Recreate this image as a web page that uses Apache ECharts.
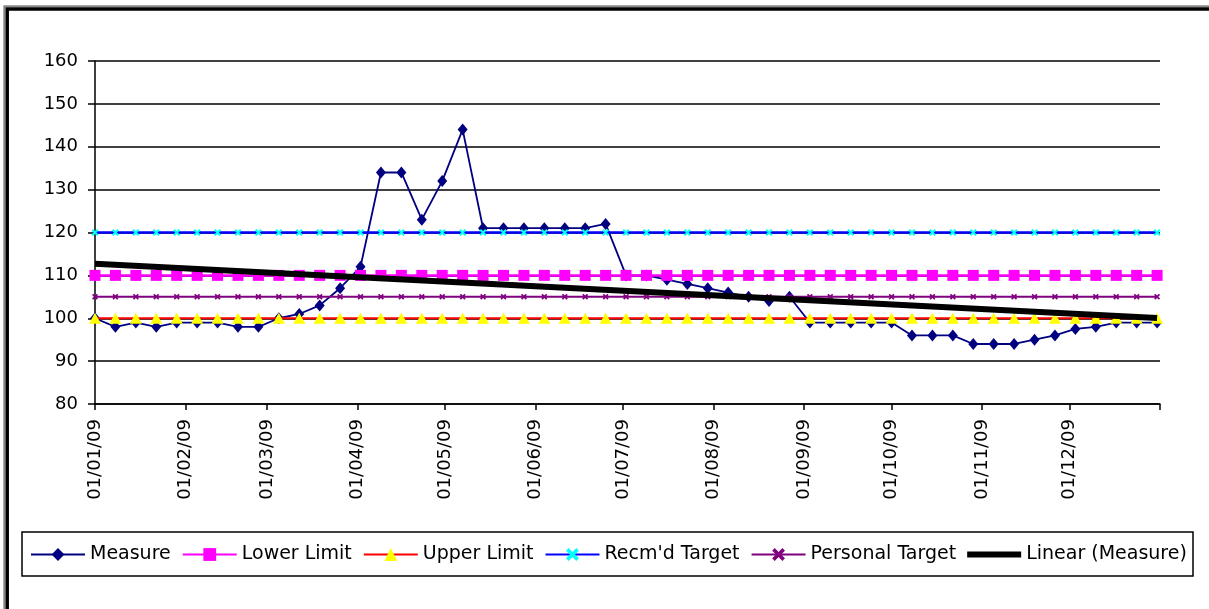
<!DOCTYPE html>
<html>
<head>
<meta charset="utf-8">
<script src="https://cdn.jsdelivr.net/npm/echarts@6/dist/echarts.min.js"></script>
<style>
html,body{margin:0;padding:0;background:#fff;}
#chart{width:1209px;height:609px;}
</style>
</head>
<body>
<div id="chart"></div>
<script>
// ---- data ----
const dates = [
 '2009-01-01','2009-01-08','2009-01-15','2009-01-22','2009-01-29',
 '2009-02-05','2009-02-12','2009-02-19','2009-02-26',
 '2009-03-05','2009-03-12','2009-03-19','2009-03-26',
 '2009-04-02','2009-04-09','2009-04-16','2009-04-23','2009-04-30',
 '2009-05-07','2009-05-14','2009-05-21','2009-05-28',
 '2009-06-04','2009-06-11','2009-06-18','2009-06-25',
 '2009-07-02','2009-07-09','2009-07-16','2009-07-23','2009-07-30',
 '2009-08-06','2009-08-13','2009-08-20','2009-08-27',
 '2009-09-03','2009-09-10','2009-09-17','2009-09-24',
 '2009-10-01','2009-10-08','2009-10-15','2009-10-22','2009-10-29',
 '2009-11-05','2009-11-12','2009-11-19','2009-11-26',
 '2009-12-03','2009-12-10','2009-12-17','2009-12-24','2009-12-31'
];
const measure = [
 100, 98, 99, 98, 99,
 99, 99, 98, 98,
 100, 101, 103, 107,
 112, 134, 134, 123, 132,
 144, 121, 121, 121,
 121, 121, 121, 122,
 110, 110, 109, 108, 107,
 106, 105, 104, 105,
 99, 99, 99, 99,
 99, 96, 96, 96, 94,
 94, 94, 95, 96,
 97.5, 98, 99, 99, 99
];
const lowerLimit = 110;
const upperLimit = 100;
const recmdTarget = 120;
const personalTarget = 105;
const monthTicks = [
 '2009-01-01','2009-02-01','2009-03-01','2009-04-01','2009-05-01','2009-06-01',
 '2009-07-01','2009-08-01','2009-09-01','2009-10-01','2009-11-01','2009-12-01','2010-01-01'
];
const seriesNames = ['Measure','Lower Limit','Upper Limit',"Recm'd Target",'Personal Target','Linear (Measure)'];

// ---- helpers ----
function toTs(s){const p=s.split('-').map(Number);return Date.UTC(p[0],p[1]-1,p[2]);}
function pad(n){return (n<10?'0':'')+n;}
function fmt(v){const d=new Date(v);return pad(d.getUTCDate())+'/'+pad(d.getUTCMonth()+1)+'/'+String(d.getUTCFullYear()).slice(2);}

const xs = dates.map(toTs);
const measureData = xs.map((x,i)=>[x,measure[i]]);
const constLine = v => xs.map(x=>[x,v]);

// least-squares trend of Measure (Excel "Linear" trendline)
const n = xs.length;
const mx = xs.reduce((a,b)=>a+b,0)/n;
const my = measure.reduce((a,b)=>a+b,0)/n;
let sxy=0,sxx=0;
for(let i=0;i<n;i++){sxy+=(xs[i]-mx)*(measure[i]-my);sxx+=(xs[i]-mx)*(xs[i]-mx);}
const slope=sxy/sxx, icpt=my-slope*mx;
const trendData=[[xs[0],icpt+slope*xs[0]],[xs[n-1],icpt+slope*xs[n-1]]];

const tickTs = monthTicks.map(toTs);
const labelTs = tickTs.slice(0,-1);

const FONT = 'DejaVu Sans';
const xMark = 'path://M0,2 L2,0 L5,3 L8,0 L10,2 L7,5 L10,8 L8,10 L5,7 L2,10 L0,8 L3,5 Z';

const legendData = seriesNames.map((nm,i)=> i===5 ? {name:nm, icon:'path://M0,0 H54 V6 H0 Z'} : {name:nm});

const chart = echarts.init(document.getElementById('chart'));
chart.setOption({
  animation:false,
  backgroundColor:'#fff',
  textStyle:{fontFamily:FONT},
  graphic:[
    {type:'rect',shape:{x:4.3,y:6.2,width:1400,height:800},style:{fill:'none',stroke:'#888',lineWidth:2},z:100,silent:true},
    {type:'rect',shape:{x:7.2,y:9,width:1400,height:800},style:{fill:'none',stroke:'#000',lineWidth:3.5},z:100,silent:true},
    {type:'rect',shape:{x:22,y:532,width:1171,height:44},style:{fill:'none',stroke:'#000',lineWidth:1.5},z:100,silent:true}
  ],
  grid:{left:95,right:49,top:61,bottom:205,containLabel:false},
  legend:{
    left:30, top:545, padding:0, itemGap:11, itemWidth:54, itemHeight:16,
    textStyle:{fontFamily:FONT,fontSize:19,color:'#000'},
    data:legendData
  },
  xAxis:{
    type:'value',
    min:tickTs[0], max:tickTs[tickTs.length-1],
    axisLine:{lineStyle:{color:'#000',width:1.5}},
    axisTick:{show:true,length:6,lineStyle:{color:'#000',width:1.5},customValues:tickTs},
    axisLabel:{rotate:90,margin:15,fontFamily:FONT,fontSize:18,color:'#000',customValues:labelTs,formatter:fmt},
    splitLine:{show:false}
  },
  yAxis:{
    type:'value', min:80, max:160, interval:10,
    axisLine:{show:true,lineStyle:{color:'#000',width:1.5}},
    axisTick:{show:true,length:7,lineStyle:{color:'#000',width:1.5}},
    axisLabel:{margin:17,fontFamily:FONT,fontSize:18,color:'#000'},
    splitLine:{show:true,lineStyle:{color:'#000',width:1.5}}
  },
  series:[
    {name:seriesNames[0],type:'line',data:measureData,symbol:'diamond',symbolSize:[10,12],
     lineStyle:{color:'#000080',width:1.8},itemStyle:{color:'#000080'},z:2},
    {name:seriesNames[1],type:'line',data:constLine(lowerLimit),symbol:'rect',symbolSize:11,
     lineStyle:{color:'#FF00FF',width:2.5},itemStyle:{color:'#FF00FF'},z:3},
    {name:seriesNames[2],type:'line',data:constLine(upperLimit),symbol:'triangle',symbolSize:[12,11],
     lineStyle:{color:'#FF0000',width:2},itemStyle:{color:'#FFFF00'},z:4},
    {name:seriesNames[3],type:'line',data:constLine(recmdTarget),symbol:xMark,symbolSize:7,
     lineStyle:{color:'#0000FF',width:2.5},itemStyle:{color:'#00FFFF'},z:5},
    {name:seriesNames[4],type:'line',data:constLine(personalTarget),symbol:xMark,symbolSize:6,
     lineStyle:{color:'#800080',width:2},itemStyle:{color:'#800080'},z:6},
    {name:seriesNames[5],type:'line',data:trendData,symbol:'none',
     lineStyle:{color:'#000',width:6},itemStyle:{color:'#000'},z:7}
  ]
});
</script>
</body>
</html>
